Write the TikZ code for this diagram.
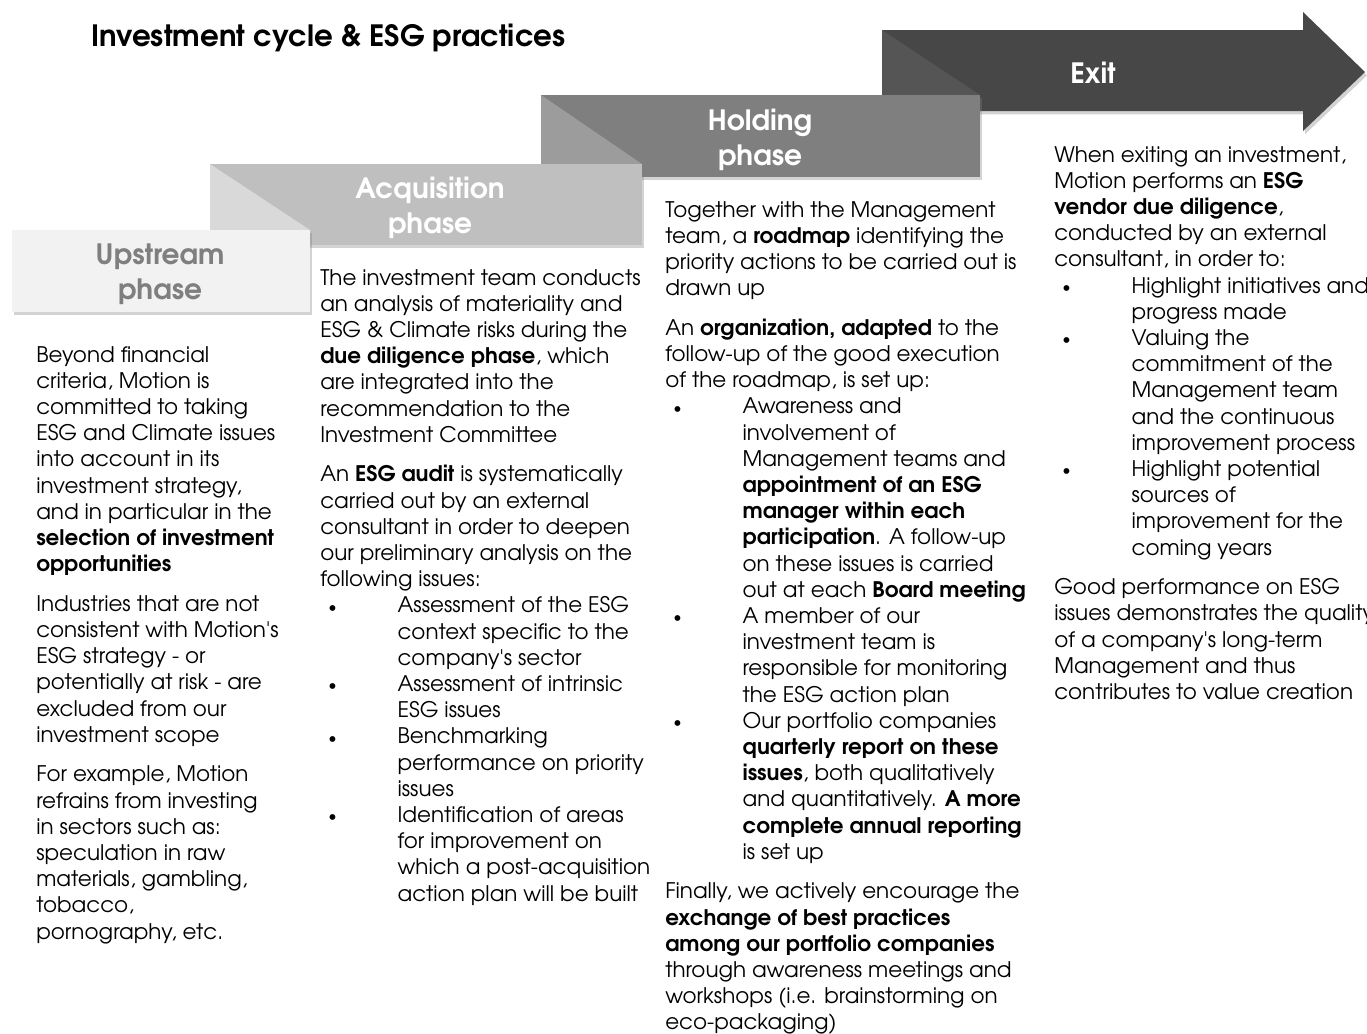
\documentclass[tikz,border=0pt]{standalone}
\usepackage{fontspec}
\setmainfont{TeX Gyre Adventor}
\usetikzlibrary{shadows}

\definecolor{upfill}{HTML}{F2F2F2}
\definecolor{uptext}{HTML}{7F7F7F}
\definecolor{acqfill}{HTML}{BFBFBF}
\definecolor{acqfold}{HTML}{D9D9D9}
\definecolor{holdfill}{HTML}{7F7F7F}
\definecolor{holdfold}{HTML}{9C9C9C}
\definecolor{exitfill}{HTML}{474747}
\definecolor{exitfold}{HTML}{555555}

\newcommand\bitem[1]{\hspace*{6pt}\makebox[52pt][l]{\raisebox{0.5pt}{\scalebox{0.75}{\textbullet}}}#1}
\newcommand\bcont[1]{\hspace*{58pt}#1}
\newcommand\ap{\textquotesingle}

\tikzset{
  phasebox/.style={drop shadow={opacity=0.35, shadow xshift=1.5pt, shadow yshift=-2.5pt}},
  phaselabel/.style={align=center, text=white, font=\fontsize{21}{26}\selectfont\bfseries},
  body/.style={anchor=north west, align=left, inner sep=0pt, font=\fontsize{16.1}{19.65}\selectfont}
}

\begin{document}
\begin{tikzpicture}[x=0.75pt, y=-0.75pt]
    \useasboundingbox (0,0) rectangle (1367,1033);

    % title
    \node[anchor=west, inner sep=0pt, font=\fontsize{22}{26}\selectfont\bfseries] (title) at (91,38) {Investment cycle \& ESG practices};

    % exit arrow
    \fill[exitfill, phasebox] (882,30) -- (1303,30) -- (1303,12) -- (1365,72) -- (1303,131) -- (1303,111) -- (882,111) -- cycle;
    \fill[exitfold] (882,30) -- (980,95) -- (882,95) -- cycle;

    % holding
    \fill[holdfill, phasebox] (541,95) rectangle (980,177);
    \fill[holdfold] (541,95) -- (642,164) -- (541,164) -- cycle;

    % acquisition
    \fill[acqfill, phasebox] (210,164) rectangle (642,245);
    \fill[acqfold] (210,164) -- (310,230) -- (210,230) -- cycle;

    % upstream
    \fill[upfill, phasebox] (12,230) rectangle (310,312);

    \node[phaselabel, text=uptext] (upstream) at (160,274) {Upstream\\phase};
    \node[phaselabel] (acquisition) at (430,208) {Acquisition\\phase};
    \node[phaselabel] (holding) at (760,140) {Holding\\phase};
    \node[phaselabel] (exit) at (1093,73) {Exit};

    % column texts
    \node[body] (uptxt) at (36,346) {Beyond financial\\
        criteria, Motion is\\
        committed to taking\\
        ESG and Climate issues\\
        into account in its\\
        investment strategy,\\
        and in particular in the\\
        \textbf{selection of investment}\\
        \textbf{opportunities}\\[10pt]
        Industries that are not\\
        consistent with Motion\ap s\\
        ESG strategy - or\\
        potentially at risk - are\\
        excluded from our\\
        investment scope\\[10pt]
        For example, Motion\\
        refrains from investing\\
        in sectors such as:\\
        speculation in raw\\
        materials, gambling,\\
        tobacco,\\
        pornography, etc.};

    \node[body] (acqtxt) at (320,269) {The investment team conducts\\
        an analysis of materiality and\\
        ESG \& Climate risks during the\\
        \textbf{due diligence phase}, which\\
        are integrated into the\\
        recommendation to the\\
        Investment Committee\\[10pt]
        An \textbf{ESG audit} is systematically\\
        carried out by an external\\
        consultant in order to deepen\\
        our preliminary analysis on the\\
        following issues:\\
        \bitem{Assessment of the ESG}\\
        \bcont{context specific to the}\\
        \bcont{company\ap s sector}\\
        \bitem{Assessment of intrinsic}\\
        \bcont{ESG issues}\\
        \bitem{Benchmarking}\\
        \bcont{performance on priority}\\
        \bcont{issues}\\
        \bitem{Identification of areas}\\
        \bcont{for improvement on}\\
        \bcont{which a post-acquisition}\\
        \bcont{action plan will be built}};

    \node[body] (holdtxt) at (665,201) {Together with the Management\\
        team, a \textbf{roadmap} identifying the\\
        priority actions to be carried out is\\
        drawn up\\[10pt]
        An \textbf{organization, adapted} to the\\
        follow-up of the good execution\\
        of the roadmap, is set up:\\
        \bitem{Awareness and}\\
        \bcont{involvement of}\\
        \bcont{Management teams and}\\
        \bcont{\textbf{appointment of an ESG}}\\
        \bcont{\textbf{manager within each}}\\
        \bcont{\textbf{participation}. A follow-up}\\
        \bcont{on these issues is carried}\\
        \bcont{out at each \textbf{Board meeting}}\\
        \bitem{A member of our}\\
        \bcont{investment team is}\\
        \bcont{responsible for monitoring}\\
        \bcont{the ESG action plan}\\
        \bitem{Our portfolio companies}\\
        \bcont{\textbf{quarterly report on these}}\\
        \bcont{\textbf{issues}, both qualitatively}\\
        \bcont{and quantitatively. \textbf{A more}}\\
        \bcont{\textbf{complete annual reporting}}\\
        \bcont{is set up}\\[10pt]
        Finally, we actively encourage the\\
        \textbf{exchange of best practices}\\
        \textbf{among our portfolio companies}\\
        through awareness meetings and\\
        workshops (i.e. brainstorming on\\
        eco-packaging)};

    \node[body] (exittxt) at (1054,146) {When exiting an investment,\\
        Motion performs an \textbf{ESG}\\
        \textbf{vendor due diligence},\\
        conducted by an external\\
        consultant, in order to:\\
        \bitem{Highlight initiatives and}\\
        \bcont{progress made}\\
        \bitem{Valuing the}\\
        \bcont{commitment of the}\\
        \bcont{Management team}\\
        \bcont{and the continuous}\\
        \bcont{improvement process}\\
        \bitem{Highlight potential}\\
        \bcont{sources of}\\
        \bcont{improvement for the}\\
        \bcont{coming years}\\[10pt]
        Good performance on ESG\\
        issues demonstrates the quality\\
        of a company\ap s long-term\\
        Management and thus\\
        contributes to value creation};
\end{tikzpicture}
\end{document}
